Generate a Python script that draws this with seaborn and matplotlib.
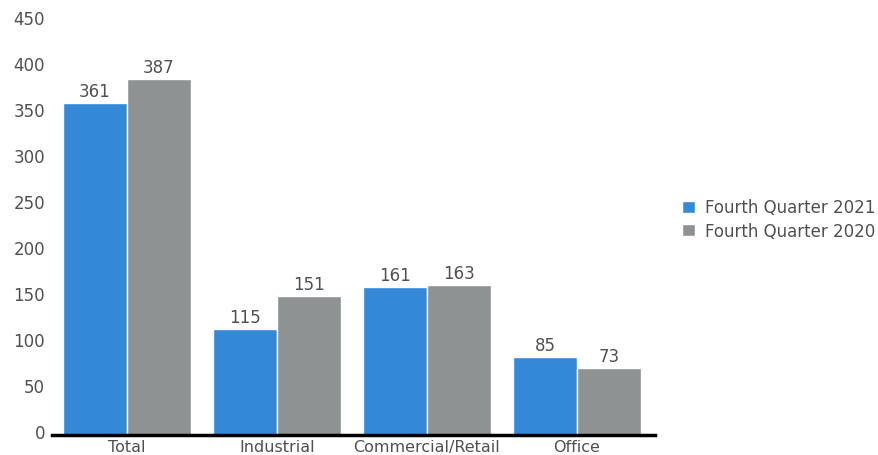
import matplotlib
matplotlib.use("Agg")
import matplotlib.pyplot as plt
import matplotlib.transforms as mtransforms
import seaborn as sns
import pandas as pd

categories = ["Total", "Industrial", "Commercial/Retail", "Office"]
series_names = ["Fourth Quarter 2021", "Fourth Quarter 2020"]
q4_2021 = [361, 115, 161, 85]
q4_2020 = [387, 151, 163, 73]
yticks = [0, 50, 100, 150, 200, 250, 300, 350, 400, 450]

sns.set_theme(style="white")
plt.rcParams['font.family'] = ['DejaVu Sans']

df = pd.DataFrame({
    "category": categories * 2,
    "series": [series_names[0]] * 4 + [series_names[1]] * 4,
    "value": q4_2021 + q4_2020,
})

txt = "#505050"
fig = plt.figure(figsize=(8.79, 4.56), dpi=100)
ax = fig.add_axes([0.059, 0.044, 0.686, 0.908])
palette = {series_names[0]: "#3388D8", series_names[1]: "#8E9292"}
sns.barplot(data=df, x="category", y="value", hue="series", palette=palette,
            width=0.85, saturation=1, edgecolor="white", linewidth=1, ax=ax)

for cont in ax.containers:
    ax.bar_label(cont, fmt="%d", padding=2, fontsize=12, color=txt)

ax.set_ylim(0, 450)
ax.set_xlim(-0.5, 3.52)
ax.set_yticks(yticks)
ax.set_xlabel("")
ax.set_ylabel("")
ax.tick_params(axis="both", length=0, labelsize=11.5, colors=txt)
ax.tick_params(axis="y", pad=5, labelsize=12)
ax.tick_params(axis="x", pad=3)
offset = mtransforms.ScaledTranslation(0, 4 / 100, fig.dpi_scale_trans)
for lab in ax.get_yticklabels():
    lab.set_transform(lab.get_transform() + offset)
for s in ["top", "right", "left"]:
    ax.spines[s].set_visible(False)
ax.spines["bottom"].set_color("black")
ax.spines["bottom"].set_linewidth(2.5)

handles, labels = ax.get_legend_handles_labels()
ax.legend_.remove()
fig.legend(handles, labels, loc="center left", bbox_to_anchor=(0.759, 0.517),
           frameon=False, fontsize=12, labelcolor=txt,
           handlelength=0.75, handleheight=0.75, handletextpad=0.6,
           labelspacing=0.33)

fig.savefig("out.png", dpi=100)
